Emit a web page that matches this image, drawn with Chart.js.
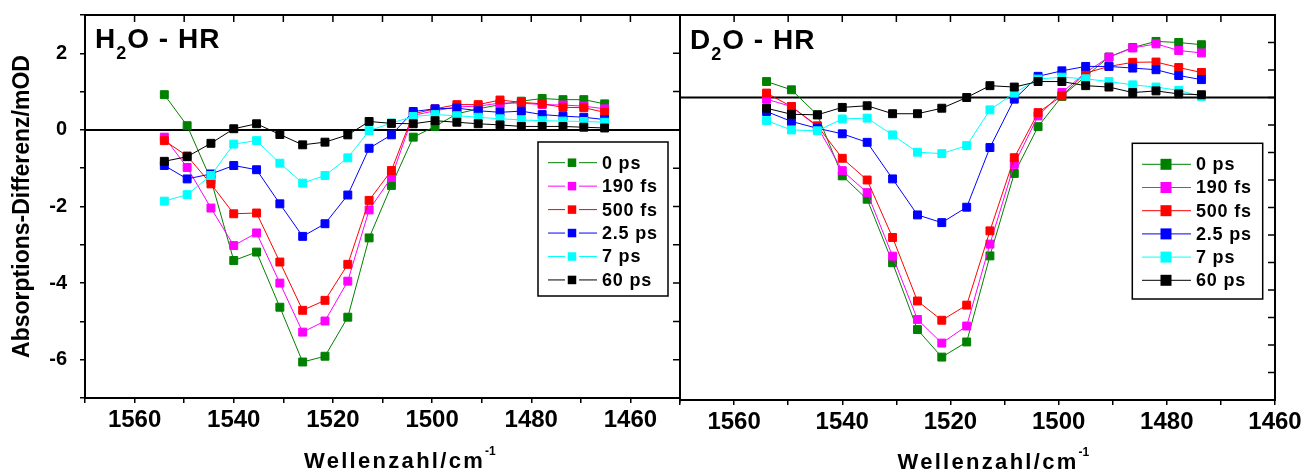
<!DOCTYPE html>
<html><head><meta charset="utf-8">
<script src="https://cdn.jsdelivr.net/npm/chart.js@4"></script>
<style>
html,body{margin:0;padding:0;background:#fff;}
#wrap{position:relative;width:1304px;height:472px;overflow:hidden;background:#fff;}
canvas{position:absolute;top:0;}
.lbl{position:absolute;font-family:"Liberation Sans",Arial,sans-serif;font-weight:bold;color:#000;white-space:nowrap;z-index:5;}
.panel{font-size:28px;line-height:28px;letter-spacing:1px;}
.panel span{font-size:18px;position:relative;top:11px;}
.xt{font-size:22px;line-height:22px;letter-spacing:2.3px;}
.xt span{font-size:12px;position:relative;top:-13px;letter-spacing:0;}
</style></head><body>
<div id="wrap">
<canvas id="c1" width="700" height="472" style="left:0px"></canvas>
<canvas id="c2" width="644" height="472" style="left:660px"></canvas>
<div class="lbl panel" style="left:95px;top:24.6px">H<span>2</span>O - HR</div>
<div class="lbl panel" style="left:690px;top:26.3px">D<span>2</span>O - HR</div>
<div class="lbl xt" style="left:304px;top:449.7px">Wellenzahl/cm<span>-1</span></div>
<div class="lbl xt" style="left:897.5px;top:451.4px">Wellenzahl/cm<span>-1</span></div>
</div>
<script>
// ---- data ----
const wavenumbers = [1554.0, 1549.4, 1544.6, 1540.0, 1535.4, 1530.7, 1526.1, 1521.6, 1517.0, 1512.7, 1508.2, 1503.8, 1499.4, 1495.0, 1490.7, 1486.3, 1482.0, 1477.8, 1473.6, 1469.4, 1465.2];
const seriesLabels = ['0 ps', '190 fs', '500 fs', '2.5 ps', '7 ps', '60 ps'];
const seriesColors = ['#008000', '#ff00ff', '#ff0000', '#0000ff', '#00ffff', '#000000'];

const h2o_0ps   = [0.92, 0.11, -1.30, -3.41, -3.19, -4.63, -6.06, -5.91, -4.89, -2.82, -1.45, -0.19, 0.09, 0.42, 0.55, 0.66, 0.75, 0.82, 0.79, 0.79, 0.68];
const h2o_190fs = [-0.19, -0.98, -2.04, -3.02, -2.69, -4.00, -5.28, -4.99, -3.95, -2.09, -1.24, 0.38, 0.50, 0.60, 0.62, 0.70, 0.70, 0.66, 0.65, 0.62, 0.55];
const h2o_500fs = [-0.28, -0.68, -1.41, -2.19, -2.17, -3.45, -4.71, -4.45, -3.51, -1.84, -1.06, 0.42, 0.55, 0.66, 0.66, 0.78, 0.72, 0.68, 0.59, 0.58, 0.46];
const h2o_2_5ps = [-0.93, -1.28, -1.15, -0.93, -1.04, -1.93, -2.78, -2.45, -1.70, -0.48, -0.13, 0.48, 0.55, 0.57, 0.50, 0.46, 0.49, 0.40, 0.36, 0.33, 0.27];
const h2o_7ps   = [-1.86, -1.69, -1.19, -0.37, -0.28, -0.87, -1.39, -1.19, -0.73, -0.02, 0.18, 0.35, 0.40, 0.37, 0.33, 0.29, 0.26, 0.24, 0.23, 0.22, 0.20];
const h2o_60ps  = [-0.82, -0.70, -0.35, 0.03, 0.16, -0.12, -0.39, -0.32, -0.13, 0.22, 0.17, 0.16, 0.24, 0.20, 0.16, 0.13, 0.09, 0.09, 0.09, 0.07, 0.05];

const d2o_0ps   = [0.58, 0.28, -0.63, -2.85, -3.70, -6.01, -8.44, -9.44, -8.89, -5.76, -2.76, -1.06, 0.04, 0.77, 1.47, 1.82, 2.04, 2.00, 1.92];
const d2o_190fs = [-0.06, -0.33, -1.06, -2.66, -3.46, -5.77, -8.07, -8.93, -8.31, -5.33, -2.43, -0.67, 0.18, 0.91, 1.47, 1.80, 1.95, 1.71, 1.62];
const d2o_500fs = [0.16, -0.33, -1.03, -2.21, -3.00, -5.09, -7.40, -8.10, -7.55, -4.85, -2.19, -0.55, 0.06, 0.89, 1.13, 1.28, 1.29, 1.09, 0.91];
const d2o_2_5ps = [-0.51, -0.87, -1.12, -1.32, -1.63, -2.96, -4.27, -4.55, -3.99, -1.82, -0.06, 0.77, 0.97, 1.13, 1.13, 1.07, 1.01, 0.80, 0.65];
const d2o_7ps   = [-0.84, -1.18, -1.21, -0.78, -0.75, -1.36, -1.99, -2.04, -1.75, -0.45, 0.16, 0.67, 0.74, 0.68, 0.58, 0.46, 0.38, 0.26, 0.04];
const d2o_60ps  = [-0.39, -0.61, -0.63, -0.36, -0.30, -0.59, -0.59, -0.39, 0.00, 0.43, 0.38, 0.58, 0.58, 0.43, 0.38, 0.18, 0.24, 0.13, 0.10];

const xTickLabels = [1560, 1540, 1520, 1500, 1480, 1460];
const h2oYTickLabels = [2, 0, -2, -4, -6];

// ---- chart ----
const FONT = '"Liberation Sans", Arial, sans-serif';
Chart.defaults.font.family = FONT;

function makeDatasets(list) {
  return list.map((vals, i) => ({
    label: seriesLabels[i],
    data: vals.map((v, k) => ({ x: wavenumbers[k], y: v })),
    borderColor: seriesColors[i],
    backgroundColor: seriesColors[i],
    pointBackgroundColor: seriesColors[i],
    pointBorderColor: seriesColors[i],
    pointStyle: 'rect',
    pointRadius: 5.6,
    pointBorderWidth: 1,
    borderWidth: 1,
    tension: 0,
    fill: false,
    order: 10 - i
  }));
}

const framePlugin = {
  id: 'frame',
  beforeDatasetsDraw(chart, args, opts) {
    const { ctx, chartArea: a, scales: { y } } = chart;
    const y0 = y.getPixelForValue(0);
    ctx.save();
    ctx.strokeStyle = '#000'; ctx.lineWidth = 2;
    ctx.beginPath(); ctx.moveTo(a.left, y0); ctx.lineTo(a.right, y0); ctx.stroke();
    ctx.restore();
  },
  afterDraw(chart, args, opts) {
    const { ctx, chartArea: a, scales: { x, y } } = chart;
    ctx.save();
    ctx.strokeStyle = '#000'; ctx.lineWidth = 2;
    ctx.beginPath();
    ctx.moveTo(a.left - 1, a.top); ctx.lineTo(a.right + 1, a.top);
    ctx.moveTo(a.right, a.top); ctx.lineTo(a.right, a.bottom + 1);
    ctx.moveTo(a.left, a.top); ctx.lineTo(a.left, a.bottom);
    ctx.stroke();
    ctx.lineWidth = 1.5;
    ctx.beginPath();
    x.ticks.forEach(t => { const px = x.getPixelForValue(t.value); ctx.moveTo(px, a.top); ctx.lineTo(px, a.top + opts.inLen); });
    y.ticks.forEach(t => { const py = y.getPixelForValue(t.value); ctx.moveTo(a.right, py); ctx.lineTo(a.right - opts.inLen, py); });
    ctx.stroke();
    // legend
    const L = opts.legend;
    ctx.lineWidth = 1.5; ctx.strokeStyle = '#000';
    ctx.strokeRect(L.x1, L.y1, L.x2 - L.x1, L.y2 - L.y1);
    ctx.font = 'bold 18px ' + FONT;
    ctx.textBaseline = 'middle'; ctx.textAlign = 'left';
    if ('letterSpacing' in ctx) ctx.letterSpacing = '0.8px';
    chart.data.datasets.forEach((ds, i) => {
      const cy = L.y0 + i * L.dy;
      ctx.strokeStyle = ds.borderColor; ctx.lineWidth = 1;
      ctx.beginPath();
      if (L.gap) {
        ctx.moveTo(L.lx1, cy); ctx.lineTo(L.mx - L.gap, cy);
        ctx.moveTo(L.mx + L.gap, cy); ctx.lineTo(L.lx2, cy);
      } else {
        ctx.moveTo(L.lx1, cy); ctx.lineTo(L.lx2, cy);
      }
      ctx.stroke();
      ctx.fillStyle = ds.pointBackgroundColor;
      ctx.fillRect(L.mx - L.ms / 2, cy - L.ms / 2, L.ms, L.ms);
      ctx.fillStyle = '#000';
      ctx.fillText(ds.label, L.tx, cy + 1);
    });
    if ('letterSpacing' in ctx) ctx.letterSpacing = '0px';
    ctx.restore();
  }
};

const tickGrid = { display: true, drawOnChartArea: false, drawTicks: true, tickLength: 5, color: '#000', lineWidth: 1.5 };
const axisBorder = { display: true, color: '#000', width: 2 };

function xScale(min, max, h) {
  return {
    type: 'linear', reverse: true, min: min, max: max,
    ticks: {
      stepSize: 10, autoSkip: false, maxRotation: 0, minRotation: 0, color: '#000', padding: 3,
      font: { family: FONT, size: 24, weight: 'bold' },
      callback: v => xTickLabels.includes(Math.round(v)) ? String(Math.round(v)) : ''
    },
    grid: tickGrid, border: axisBorder,
    afterFit: s => { s.height = h; s.paddingLeft = 0; s.paddingRight = 0; }
  };
}

new Chart(document.getElementById('c1'), {
  type: 'line',
  data: { datasets: makeDatasets([h2o_0ps, h2o_190fs, h2o_500fs, h2o_2_5ps, h2o_7ps, h2o_60ps]) },
  options: {
    responsive: false, animation: false, events: [],
    layout: { padding: { top: 15, right: 20, bottom: 0, left: 0 } },
    plugins: {
      legend: { display: false }, tooltip: { enabled: false },
      frame: { inLen: 7, legend: { x1: 538, y1: 142, x2: 668, y2: 296, lx1: 548, lx2: 597, mx: 572, ms: 8.5, gap: 7, tx: 602, y0: 162.7, dy: 23.45 } }
    },
    scales: {
      x: xScale(1450, 1570, 74),
      y: {
        type: 'linear', min: -7, max: 3,
        ticks: {
          stepSize: 1, autoSkip: false, color: '#000', padding: 13,
          font: { family: FONT, size: 20, weight: 'bold' },
          callback: v => h2oYTickLabels.includes(Math.round(v)) ? String(Math.round(v)) : ''
        },
        grid: tickGrid, border: axisBorder,
        title: { display: true, text: 'Absorptions-Differenz/mOD', color: '#000', font: { family: FONT, size: 23, weight: 'bold' }, padding: { top: 9, bottom: 0 } },
        afterFit: s => { s.width = 85; s.paddingTop = 0; s.paddingBottom = 0; }
      }
    }
  },
  plugins: [framePlugin]
});

new Chart(document.getElementById('c2'), {
  type: 'line',
  data: { datasets: makeDatasets([d2o_0ps, d2o_190fs, d2o_500fs, d2o_2_5ps, d2o_7ps, d2o_60ps]) },
  options: {
    responsive: false, animation: false, events: [],
    layout: { padding: { top: 15, right: 29, bottom: 0, left: 0 } },
    plugins: {
      legend: { display: false }, tooltip: { enabled: false },
      frame: { inLen: 7, legend: { x1: 472.3, y1: 143.3, x2: 602.7, y2: 299, lx1: 482, lx2: 531, mx: 506, ms: 11, gap: 0, tx: 536, y0: 164.3, dy: 23.2 } }
    },
    scales: {
      x: xScale(1460, 1570, 72),
      y: {
        type: 'linear', min: -11, max: 3,
        ticks: { stepSize: 1, display: false },
        grid: { display: false }, border: axisBorder,
        afterFit: s => { s.width = 20; s.paddingTop = 0; s.paddingBottom = 0; }
      }
    }
  },
  plugins: [framePlugin]
});
</script>
</body></html>
